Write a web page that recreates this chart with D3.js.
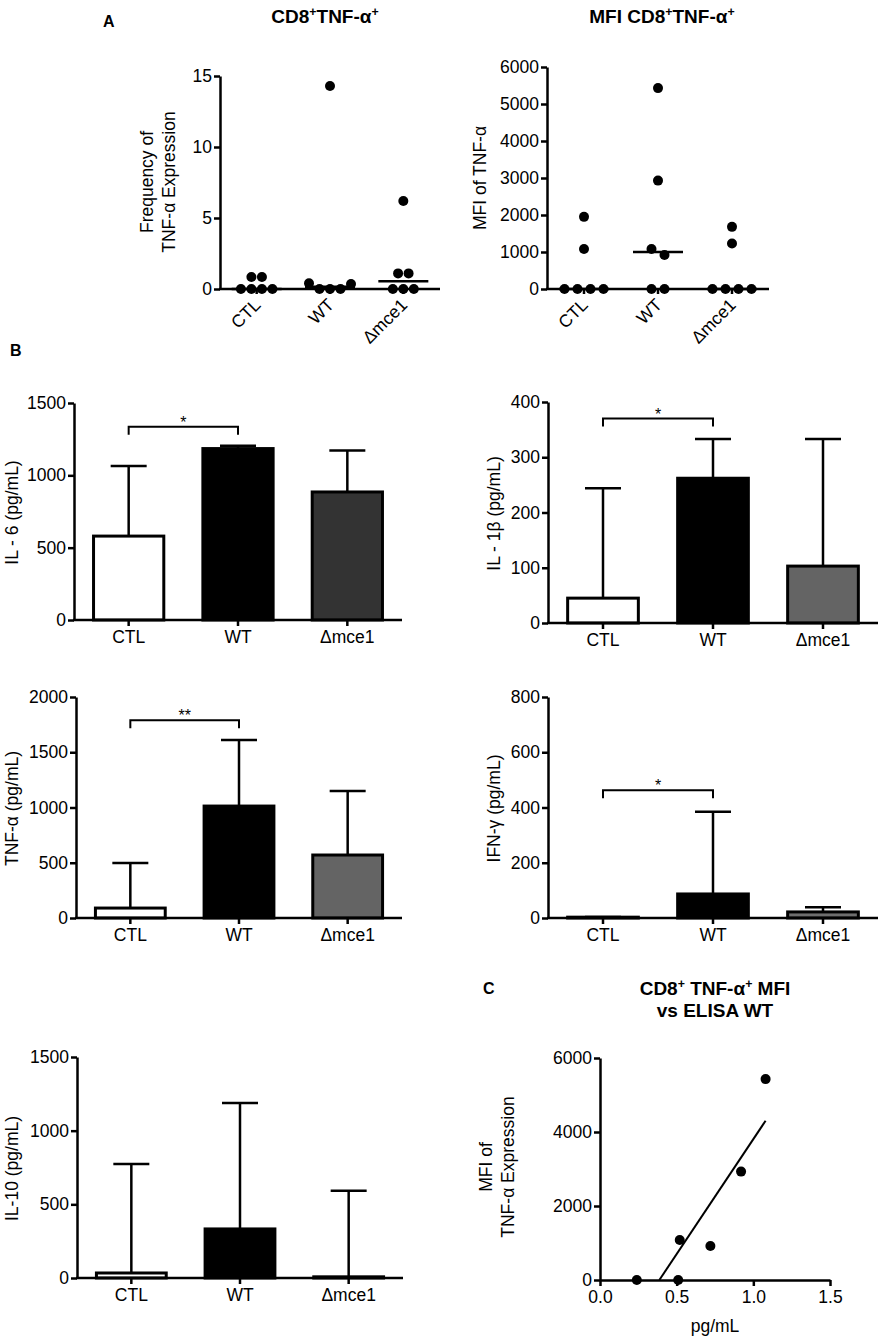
<!DOCTYPE html>
<html>
<head>
<meta charset="utf-8">
<script src="https://cdn.jsdelivr.net/npm/d3@7"></script>
<style>
body { margin: 0; background: #fff; }
</style>
</head>
<body>
<svg id="fig" width="885" height="1339"></svg>
<script>
////////////////////////////////////////////////////////////////////////
// data

let groups = ["CTL", "WT", "\u0394mce1"];

// A: frequency of TNF-a expression, one value per animal
let freqCTL = [0.85, 0.85, 0, 0, 0, 0];
let freqWT = [0.4, 0, 0, 0, 0.35, 14.3];
let freqMce1 = [1.1, 1.1, 0, 0, 0, 6.2];
let freqMedian = [0, 0.15, 0.55];

// A: MFI of TNF-a
let mfiCTL = [1950, 1080, 0, 0, 0, 0];
let mfiWT = [5430, 2930, 1080, 920, 0, 0];
let mfiMce1 = [1680, 1230, 0, 0, 0, 0];
let mfiMedian = [0, 1000, 0];

// B: mean and top of error bar (pg/mL)
let il6Mean = [580, 1185, 885];
let il6Top = [1065, 1205, 1172];
let il1bMean = [45, 262, 103];
let il1bTop = [244, 333, 333];
let tnfMean = [90, 1013, 570];
let tnfTop = [498, 1611, 1150];
let ifnMean = [3, 87, 22];
let ifnTop = [4, 385, 39];
let il10Mean = [34, 333, 8];
let il10Top = [774, 1188, 592];

// B: significance CTL vs WT (bracket level, mark)
let sigLevels = [1335, 370, 1790, 462];
let sigMarks = ["*", "*", "**", "*"];

// C: ELISA WT vs MFI
let elisaWT = [0.24, 0.51, 0.52, 0.72, 0.92, 1.08];
let mfiWTc = [0, 0, 1080, 920, 2930, 5430];

////////////////////////////////////////////////////////////////////////
// helpers

let FONT = "'Liberation Sans', Arial, Helvetica, sans-serif";
let svg = d3.select("#fig").attr("font-family", FONT);
let fmtInt = d3.format("d");

function styleAxis(g) {
  g.attr("font-size", 17.5).attr("font-family", FONT);
  g.select(".domain").attr("stroke", "#000").attr("stroke-width", 2.5);
  g.selectAll(".tick line").attr("stroke", "#000").attr("stroke-width", 2.5);
  g.selectAll(".tick text").attr("fill", "#000");
}

// text with superscript pieces: parts = [[str, isSup], ...]
function richText(x, y, parts, size) {
  let t = svg.append("text")
    .attr("x", x).attr("y", y)
    .attr("text-anchor", "middle")
    .attr("font-weight", "bold")
    .attr("font-size", size);
  let up = false;
  parts.forEach(function(p) {
    let s = t.append("tspan").text(p[0]);
    if (p[1] && !up) { s.attr("dy", -size * 0.38).attr("font-size", size * 0.65); up = true; }
    else if (p[1]) { s.attr("font-size", size * 0.65); }
    else if (up) { s.attr("dy", size * 0.38); up = false; }
  });
  return t;
}

// rotated axis title, one or more lines, x = baseline of first line
function yTitle(x, y, lines, gap) {
  lines.forEach(function(l, i) {
    svg.append("text")
      .attr("transform", "translate(" + (x + i * gap) + "," + y + ") rotate(-90)")
      .attr("text-anchor", "middle")
      .attr("font-size", 17.5)
      .text(l);
  });
}

function panelLetter(x, y, s) {
  svg.append("text").attr("x", x).attr("y", y)
    .attr("font-weight", "bold").attr("font-size", 16).text(s);
}

// spread dots that overlap in y along x, like a column scatter
function spreadDots(vals, y, cx, gap, r) {
  let rows = [];
  vals.forEach(function(v) {
    let py = y(v);
    let row = rows.find(function(rw) { return Math.abs(rw.py - py) < 2 * r; });
    if (row) row.items.push(v); else rows.push({ py: py, items: [v] });
  });
  let out = [];
  rows.forEach(function(rw) {
    rw.items.forEach(function(v, i) {
      out.push({ v: v, x: cx + (i - (rw.items.length - 1) / 2) * gap });
    });
  });
  return out;
}

////////////////////////////////////////////////////////////////////////
// panel A: column scatter with median

function scatterPanel(cfg) {
  let x = d3.scaleBand().domain(groups).range([cfg.x0, cfg.x1]);
  let y = d3.scaleLinear().domain([0, cfg.max]).range([cfg.yB, cfg.yT]);

  let ya = svg.append("g").attr("transform", "translate(" + cfg.x0 + ",0)")
    .call(d3.axisLeft(y).tickValues(d3.range(0, cfg.max + 1, cfg.step))
      .tickFormat(fmtInt).tickSize(6).tickSizeOuter(0).tickPadding(2));
  styleAxis(ya);

  let xa = svg.append("g").attr("transform", "translate(0," + cfg.yB + ")")
    .call(d3.axisBottom(x).tickSize(5).tickSizeOuter(0));
  styleAxis(xa);
  xa.select(".domain").attr("d", "M" + (cfg.x0 - 1) + ",0H" + cfg.x1);
  xa.selectAll(".tick text")
    .attr("x", 0).attr("y", 0).attr("dy", 0)
    .attr("text-anchor", "end")
    .attr("transform", "translate(5,17) rotate(-45)");

  cfg.series.forEach(function(vals, gi) {
    let cx = x(groups[gi]) + x.bandwidth() / 2;
    svg.append("g").selectAll("circle")
      .data(spreadDots(vals, y, cx, cfg.gap, 5))
      .enter().append("circle")
      .attr("cx", function(d) { return d.x; })
      .attr("cy", function(d) { return y(d.v); })
      .attr("r", 5)
      .attr("fill", "#000");
    svg.append("line")
      .attr("x1", cx - 25).attr("x2", cx + 25)
      .attr("y1", y(cfg.median[gi])).attr("y2", y(cfg.median[gi]))
      .attr("stroke", "#000").attr("stroke-width", 2.5);
  });
}

panelLetter(103, 27, "A");
richText(325, 23, [["CD8", false], ["+", true], ["TNF-\u03b1", false], ["+", true]], 19);
richText(662, 23, [["MFI CD8", false], ["+", true], ["TNF-\u03b1", false], ["+", true]], 19);

scatterPanel({ x0: 220, x1: 440, yT: 76, yB: 289, max: 15, step: 5, gap: 10.5,
  series: [freqCTL, freqWT, freqMce1], median: freqMedian });
yTitle(153, 182, ["Frequency of", "TNF-\u03b1 Expression"], 22);

scatterPanel({ x0: 547, x1: 769, yT: 67, yB: 289, max: 6000, step: 1000, gap: 13,
  series: [mfiCTL, mfiWT, mfiMce1], median: mfiMedian });
yTitle(486, 178, ["MFI of TNF-\u03b1"], 0);

////////////////////////////////////////////////////////////////////////
// panel B: bars with upper error bar

function barPanel(cfg) {
  let x = d3.scaleBand().domain(groups).range([cfg.x0, cfg.x1])
    .paddingInner(0.33).paddingOuter(0.165);
  let y = d3.scaleLinear().domain([0, cfg.max]).range([cfg.yB, cfg.yT]);
  let cx = function(i) { return x(groups[i]) + x.bandwidth() / 2; };

  svg.append("g").selectAll("rect")
    .data(cfg.mean)
    .enter().append("rect")
    .attr("x", function(d, i) { return x(groups[i]) + 1.5; })
    .attr("width", x.bandwidth() - 3)
    .attr("y", function(d) { return y(d); })
    .attr("height", function(d) { return cfg.yB - y(d); })
    .attr("fill", function(d, i) { return cfg.fills[i]; })
    .attr("stroke", "#000").attr("stroke-width", 3);

  let eb = svg.append("g").attr("stroke", "#000").attr("stroke-width", 2.5);
  cfg.top.forEach(function(t, i) {
    if (t <= cfg.mean[i]) return;
    eb.append("line").attr("x1", cx(i)).attr("x2", cx(i))
      .attr("y1", y(cfg.mean[i])).attr("y2", y(t));
    eb.append("line").attr("x1", cx(i) - 18).attr("x2", cx(i) + 18)
      .attr("y1", y(t)).attr("y2", y(t));
  });

  if (cfg.sig != null) {
    let sy = y(cfg.sig);
    svg.append("path")
      .attr("d", "M" + cx(0) + "," + (sy + 8) + "V" + sy + "H" + cx(1) + "V" + (sy + 8))
      .attr("fill", "none").attr("stroke", "#000").attr("stroke-width", 2);
    svg.append("text")
      .attr("x", (cx(0) + cx(1)) / 2).attr("y", sy + 1)
      .attr("text-anchor", "middle").attr("font-size", 16)
      .text(cfg.mark);
  }

  let ya = svg.append("g").attr("transform", "translate(" + cfg.x0 + ",0)")
    .call(d3.axisLeft(y).tickValues(d3.range(0, cfg.max + 1, cfg.step))
      .tickFormat(fmtInt).tickSize(6).tickSizeOuter(0).tickPadding(2));
  styleAxis(ya);

  let xa = svg.append("g").attr("transform", "translate(0," + cfg.yB + ")")
    .call(d3.axisBottom(x).tickSize(6).tickSizeOuter(0).tickPadding(5));
  styleAxis(xa);
  xa.select(".domain").attr("d", "M" + (cfg.x0 - 1) + ",0H" + cfg.x1);

  yTitle(cfg.labelX, (cfg.yT + cfg.yB) / 2 + 1, [cfg.label], 0);
}

panelLetter(10, 356, "B");

barPanel({ x0: 74, x1: 402, yT: 403, yB: 620, max: 1500, step: 500,
  mean: il6Mean, top: il6Top, fills: ["#fff", "#000", "#333"],
  sig: sigLevels[0], mark: sigMarks[0], label: "IL - 6 (pg/mL)", labelX: 18 });

barPanel({ x0: 548, x1: 878, yT: 402, yB: 623, max: 400, step: 100,
  mean: il1bMean, top: il1bTop, fills: ["#fff", "#000", "#646464"],
  sig: sigLevels[1], mark: sigMarks[1], label: "IL - 1\u03b2 (pg/mL)", labelX: 500 });

barPanel({ x0: 76, x1: 402, yT: 697, yB: 918, max: 2000, step: 500,
  mean: tnfMean, top: tnfTop, fills: ["#fff", "#000", "#646464"],
  sig: sigLevels[2], mark: sigMarks[2], label: "TNF-\u03b1 (pg/mL)", labelX: 18 });

barPanel({ x0: 548, x1: 878, yT: 697, yB: 918, max: 800, step: 200,
  mean: ifnMean, top: ifnTop, fills: ["#fff", "#000", "#6e6e6e"],
  sig: sigLevels[3], mark: sigMarks[3], label: "IFN-\u03b3 (pg/mL)", labelX: 500 });

barPanel({ x0: 77, x1: 403, yT: 1057, yB: 1278, max: 1500, step: 500,
  mean: il10Mean, top: il10Top, fills: ["#fff", "#000", "#646464"],
  sig: null, mark: "", label: "IL-10 (pg/mL)", labelX: 18 });

////////////////////////////////////////////////////////////////////////
// panel C: MFI vs ELISA with linear fit

panelLetter(483, 994, "C");
richText(715, 995, [["CD8", false], ["+", true], [" TNF-\u03b1", false], ["+", true], [" MFI", false]], 19);
richText(715, 1017, [["vs ELISA WT", false]], 19);

(function() {
  let x = d3.scaleLinear().domain([0, 1.5]).range([600, 830]);
  let y = d3.scaleLinear().domain([0, 6000]).range([1280, 1058]);

  let ya = svg.append("g").attr("transform", "translate(600,0)")
    .call(d3.axisLeft(y).tickValues([0, 2000, 4000, 6000]).tickFormat(fmtInt)
      .tickSize(6).tickSizeOuter(0).tickPadding(2));
  styleAxis(ya);

  let xa = svg.append("g").attr("transform", "translate(0,1280)")
    .call(d3.axisBottom(x).tickValues([0, 0.5, 1, 1.5]).tickFormat(d3.format(".1f"))
      .tickSize(6).tickSizeOuter(0).tickPadding(5));
  styleAxis(xa);

  // least squares fit, drawn from y = 0 up to the largest x
  let mx = d3.mean(elisaWT), my = d3.mean(mfiWTc);
  let sxy = d3.sum(elisaWT, function(v, i) { return (v - mx) * (mfiWTc[i] - my); });
  let sxx = d3.sum(elisaWT, function(v) { return (v - mx) * (v - mx); });
  let slope = sxy / sxx, icpt = my - slope * mx;
  let xs = -icpt / slope, xe = d3.max(elisaWT);
  svg.append("line")
    .attr("x1", x(xs)).attr("y1", y(0))
    .attr("x2", x(xe)).attr("y2", y(icpt + slope * xe))
    .attr("stroke", "#000").attr("stroke-width", 2);

  svg.append("g").selectAll("circle")
    .data(elisaWT)
    .enter().append("circle")
    .attr("cx", function(d) { return x(d); })
    .attr("cy", function(d, i) { return y(mfiWTc[i]); })
    .attr("r", 5).attr("fill", "#000");

  svg.append("text").attr("x", 715).attr("y", 1332)
    .attr("text-anchor", "middle").attr("font-size", 17.5).text("pg/mL");
  yTitle(492, 1167, ["MFI of", "TNF-\u03b1 Expression"], 22);
})();
</script>
</body>
</html>
